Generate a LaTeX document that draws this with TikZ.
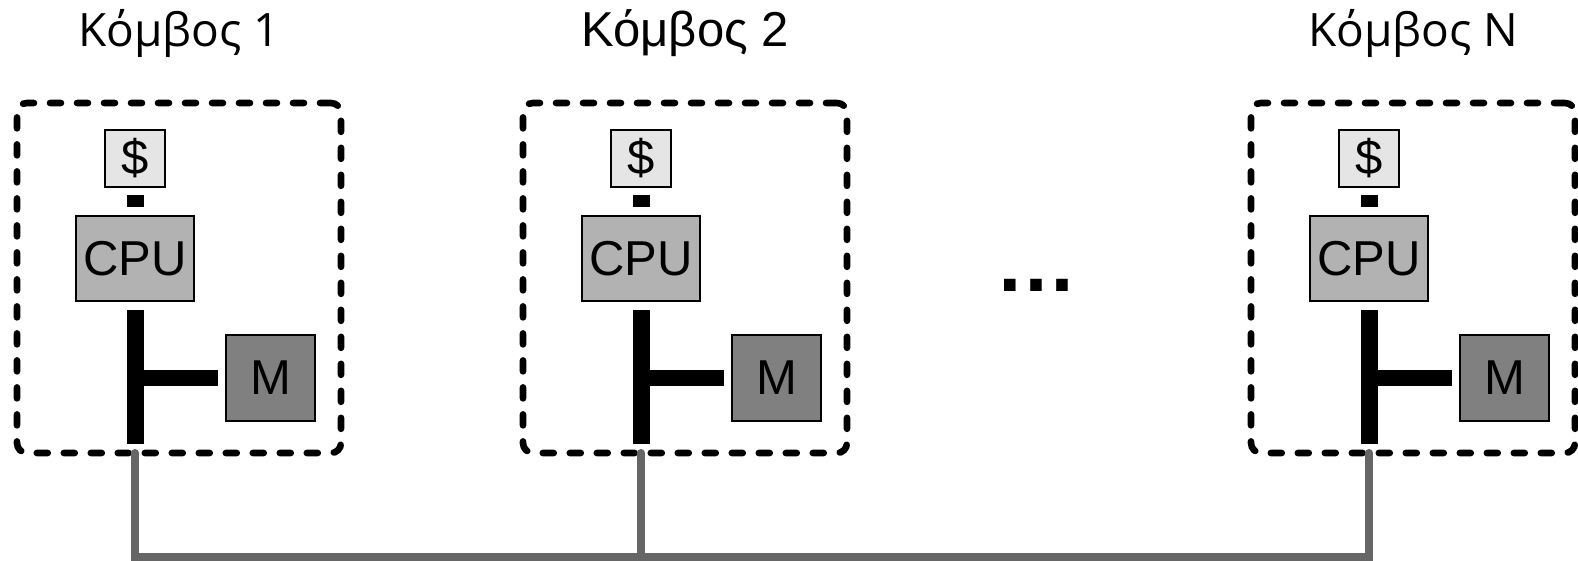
\documentclass[tikz,border=0pt]{standalone}
\usepackage{fontspec}
\setmainfont{Liberation Sans}
\newfontfamily\greekfont{Open Sans}
\usetikzlibrary{positioning}

\begin{document}
\begin{tikzpicture}[x=0.5pt, y=-0.5pt,
        part/.style={draw, line width=1pt, inner sep=0pt, outer sep=0pt, font=\fontsize{24.5}{24.5}\selectfont},
        nodebox/.style={draw, line width=3.3pt, dash pattern=on 5.5pt off 8pt, line cap=round, rounded corners=5pt,
            minimum width=162pt, minimum height=175pt, inner sep=0pt, outer sep=0pt},
        link/.style={line width=8.5pt},
        net/.style={line width=4pt, draw=black!60, line cap=round, line join=miter}]
    \useasboundingbox (0,0) rectangle (1578,561);
    \foreach \x/\n/\tf/\fs in {0/1/\greekfont/23, 506/2/\rmfamily/24.5, 1234/N/\greekfont/23} {
        \node[nodebox] (box\n) at (\x+179,278) {};
        \node[font={\tf\fontsize{\fs}{\fs}\selectfont}, anchor=base] (title\n) at (\x+179,47) {Κόμβος \n};
        \node[part, fill=black!10, minimum width=30pt, minimum height=28.5pt] (cache\n) at (\x+135,158.5) {\$};
        \node[part, fill=black!30, minimum width=59pt, minimum height=42.5pt] (cpu\n) at (\x+135,258.5) {CPU};
        \node[part, fill=black!50, minimum width=44.5pt, minimum height=43pt] (mem\n) at (\x+270.5,378) {M};
        \coordinate (bus\n) at (\x+135,444);
        \coordinate (tap\n) at (\x+135,453);
        \coordinate (net\n) at (\x+135,557);
        \draw[link, shorten <=4pt, shorten >=4.5pt] (cache\n.south) -- (cpu\n.north);
        \draw[link, shorten <=4.5pt] (cpu\n.south) -- (bus\n);
        \draw[line width=8pt, shorten >=4pt] (bus\n |- mem\n.west) -- (mem\n.west);
    }
    \node[font=\bfseries\fontsize{41}{41}\selectfont, anchor=base] (dots) at (1036,291) {…};
    % interconnect
    \draw[net] (tap1) -- (net1) -- (netN) -- (tapN);
    \draw[net] (tap2) -- (net2);
\end{tikzpicture}
\end{document}
